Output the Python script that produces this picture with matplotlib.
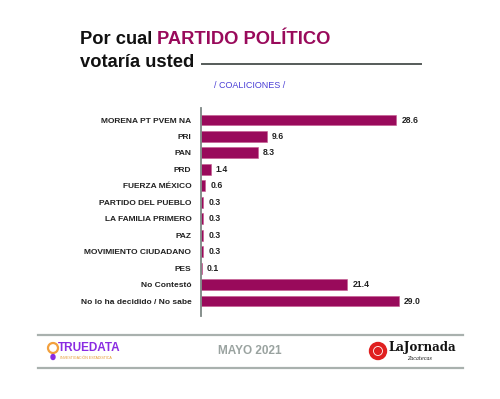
import matplotlib
matplotlib.use("Agg")
import matplotlib.pyplot as plt
from matplotlib.lines import Line2D
from matplotlib.patches import Ellipse

categories = ["MORENA PT PVEM NA", "PRI", "PAN", "PRD", "FUERZA MÉXICO",
              "PARTIDO DEL PUEBLO", "LA FAMILIA PRIMERO", "PAZ",
              "MOVIMIENTO CIUDADANO", "PES", "No Contestó",
              "No lo ha decidido / No sabe"]
values = [28.6, 9.6, 8.3, 1.4, 0.6, 0.3, 0.3, 0.3, 0.3, 0.1, 21.4, 29.0]

W, H = 500, 399
MAG = "#990a5b"
FONT = "Liberation Sans"

fig = plt.figure(figsize=(W / 100, H / 100), dpi=100)
fig.patch.set_facecolor("white")

def fx(px):
    return px / W

def fy(py):
    return 1 - py / H

# axes: x from 201 to 460 px, y from 108 to 316 px
ax = fig.add_axes([fx(201), fy(316), fx(460 - 201), (316 - 108) / H])
px_per_unit = 6.83
ax.set_xlim(0, (460 - 201) / px_per_unit)
n = len(categories)
ax.set_ylim(n - 1 + 0.91, -0.73)
ypos = list(range(n))
ax.barh(ypos, values, height=0.66, color=MAG, edgecolor="#c5588f", linewidth=0.4)
for y, v in zip(ypos, values):
    ax.text(v + 0.75, y, f"{v:.1f}", va="center", ha="left",
            fontsize=6.2, fontweight="bold", family=FONT, color="#222222")
ax.set_yticks(ypos)
ax.set_yticklabels(categories, fontsize=6.0, fontweight="bold", family=FONT, color="#222222")
ax.tick_params(axis="y", length=0, pad=7)
ax.set_xticks([])
for s in ["top", "right", "bottom"]:
    ax.spines[s].set_visible(False)
ax.spines["left"].set_color("#7d8784")
ax.spines["left"].set_linewidth(1.3)
ax.set_facecolor("none")

# Title
TS = 13.2
t1 = fig.text(fx(80), fy(44), "Por cual ", fontsize=TS, fontweight="bold",
              family=FONT, color="#111111", ha="left", va="baseline")
fig.canvas.draw()
bb = t1.get_window_extent()
fig.text(bb.x1 / W, fy(44), "PARTIDO POLÍTICO", fontsize=TS, fontweight="bold",
         family=FONT, color=MAG, ha="left", va="baseline")
fig.text(fx(80), fy(67), "votaría usted", fontsize=TS, fontweight="bold",
         family=FONT, color="#111111", ha="left", va="baseline")
fig.add_artist(Line2D([fx(202), fx(421)], [fy(64), fy(64)], color="#555b59", lw=1.4))

fig.text(fx(250), fy(86), "/ COALICIONES /", fontsize=6.5, family=FONT,
         color="#4b3fd6", ha="center", va="center")

# Footer
for yy in (335, 368):
    fig.add_artist(Line2D([fx(38), fx(463)], [fy(yy), fy(yy)], color="#a9b1ae", lw=1.6))
fig.text(fx(250), fy(351), "MAYO 2021", fontsize=8.5, fontweight="bold", family=FONT,
         color="#9aa3a0", ha="center", va="center")
fig.text(fx(58), fy(348), "TRUEDATA", fontsize=8.5, fontweight="bold", family=FONT,
         color="#8a2be2", ha="left", va="center")
fig.text(fx(60), fy(358), "INVESTIGACIÓN ESTADÍSTICA", fontsize=2.6, family=FONT,
         color="#e69a2e", ha="left", va="center")
fig.add_artist(Ellipse((fx(53), fy(348)), 10 / W, 10 / H, transform=fig.transFigure,
                       edgecolor="#f2a03d", facecolor="none", lw=1.6))
fig.add_artist(Ellipse((fx(53), fy(357)), 4 / W, 5 / H, transform=fig.transFigure,
                       color="#8a2be2"))
fig.add_artist(Ellipse((fx(378), fy(351)), 17 / W, 17 / H, transform=fig.transFigure,
                       color="#e02020"))
fig.add_artist(Ellipse((fx(378), fy(351)), 9 / W, 9 / H, transform=fig.transFigure,
                       facecolor="none", edgecolor="white", lw=0.6))
fig.text(fx(388), fy(348), "LaJornada", fontsize=8.5, fontweight="bold", family="DejaVu Serif",
         color="#111111", ha="left", va="center")
fig.text(fx(432), fy(358), "Zacatecas", fontsize=3.5, style="italic", family="DejaVu Serif",
         color="#111111", ha="right", va="center")

fig.savefig("out.png", dpi=100)
